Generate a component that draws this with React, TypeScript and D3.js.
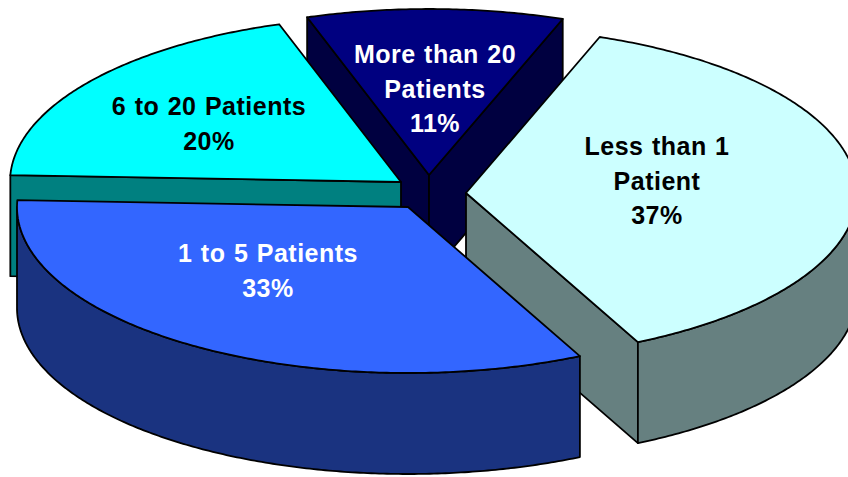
import React from "react";
import * as d3 from "d3";

const categories = ["Less than 1 Patient", "1 to 5 Patients", "6 to 20 Patients", "More than 20 Patients"];
const shares = [37.2, 32.9, 19.3, 10.6];
const percentLabels = ["37%", "33%", "20%", "11%"];
const labelLines = [["Less than 1", "Patient", "37%"], ["1 to 5 Patients", "33%"], ["6 to 20 Patients", "20%"], ["More than 20", "Patients", "11%"]];
const topColors = ["#CCFFFF", "#3366FF", "#00FFFF", "#000080"];
const wallColors = ["#668080", "#1A3380", "#008080", "#000040"];

const W = 848, H = 477;
const RX = 391, RY = 166, DEPTH = 101;
const START = (20 * Math.PI) / 180;
// layout: apex of each exploded slice, label anchor, and paint order
const apexes: [number, number][] = [[466, 193], [408, 207], [401, 182], [429, 175]];
const labelPos: [number, number][] = [[657, 155], [268, 262], [209, 115], [435, 63]];
const labelFill = ["#000", "#fff", "#000", "#fff"];
const paintOrder = [3, 2, 0, 1];

const pie = d3.pie<number>().sort(null).startAngle(START).endAngle(START + 2 * Math.PI);
const arcs = pie(shares);

const pt = (apex: [number, number], t: number, dz = 0): [number, number] => [
  apex[0] + RX * Math.cos(t),
  apex[1] + RY * Math.sin(t) + dz,
];
const line = d3.line<[number, number]>();
const sample = (a: number, b: number) => {
  const n = Math.max(2, Math.ceil(Math.abs(b - a) / 0.01));
  return d3.range(n + 1).map((i) => a + ((b - a) * i) / n);
};

function Slice({ i }: { i: number }) {
  const apex = apexes[i];
  const t0 = arcs[i].startAngle - Math.PI / 2;
  const t1 = arcs[i].endAngle - Math.PI / 2;
  const wall = (t: number) =>
    line([apex, pt(apex, t), pt(apex, t, DEPTH), [apex[0], apex[1] + DEPTH]]) + "Z";
  const rims: string[] = [];
  for (let k = 0; k <= 2; k += 2) {
    const lo = Math.max(t0, k * Math.PI);
    const hi = Math.min(t1, (k + 1) * Math.PI);
    if (hi > lo) {
      const s = sample(lo, hi);
      rims.push(line([...s.map((t) => pt(apex, t)), ...s.reverse().map((t) => pt(apex, t, DEPTH))]) + "Z");
    }
  }
  const top = line([apex, ...sample(t0, t1).map((t) => pt(apex, t))]) + "Z";
  const common = { stroke: "#000", strokeWidth: 1.8, strokeLinejoin: "round" as const };
  return (
    <g>
      {Math.cos(t0) < 0 && <path d={wall(t0)} fill={wallColors[i]} {...common} />}
      {Math.cos(t1) > 0 && <path d={wall(t1)} fill={wallColors[i]} {...common} />}
      {rims.map((d, k) => <path key={k} d={d} fill={wallColors[i]} {...common} />)}
      <path d={top} fill={topColors[i]} {...common} />
    </g>
  );
}

export default function App() {
  return (
    <svg width={W} height={H} viewBox={`0 0 ${W} ${H}`} role="img" aria-label={categories.map((c, i) => `${c} ${percentLabels[i]}`).join(", ")}
      style={{ position: "absolute", left: 0, top: 0, background: "#fff" }}>
      {paintOrder.map((i) => <Slice key={i} i={i} />)}
      {labelLines.map((lines, i) => (
        <text key={i} fontFamily="'Liberation Sans', Arial, sans-serif" fontWeight="bold" fontSize={25} letterSpacing={0.5} wordSpacing={1} textAnchor="middle" fill={labelFill[i]}>
          {lines.map((l, j) => (
            <tspan key={j} x={labelPos[i][0]} y={labelPos[i][1] + j * 34.5}>{l}</tspan>
          ))}
        </text>
      ))}
    </svg>
  );
}
